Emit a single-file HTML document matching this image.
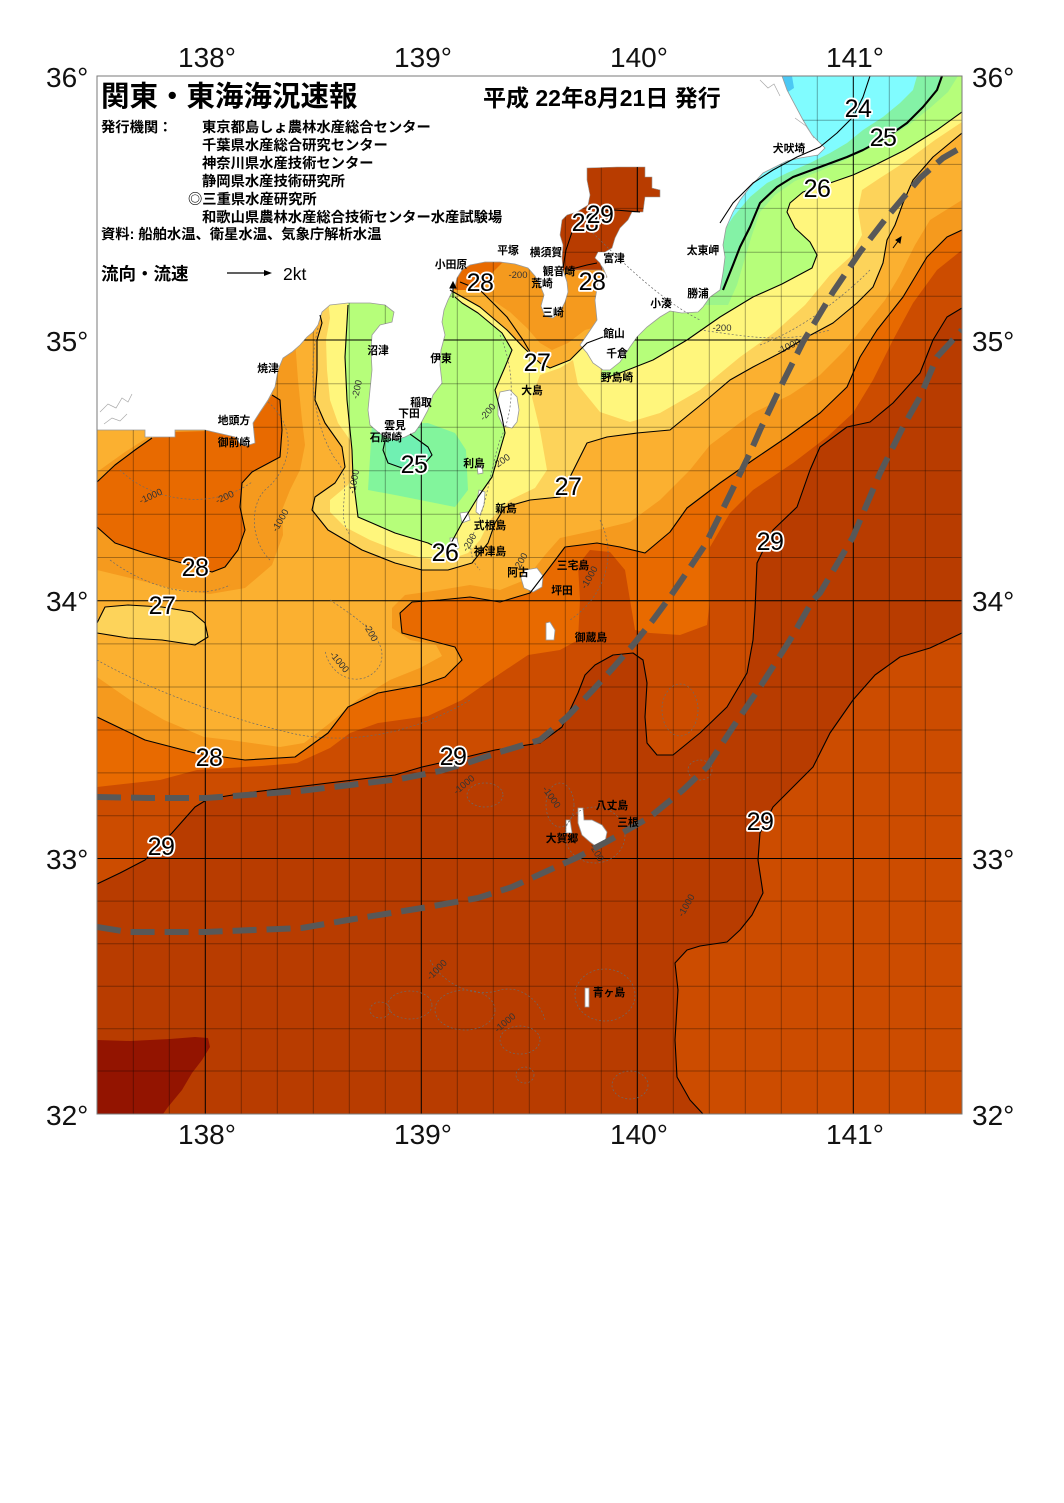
<!DOCTYPE html>
<html lang="ja">
<head>
<meta charset="utf-8">
<title>関東・東海海況速報</title>
<style>
  html,body{margin:0;padding:0;background:#fff;}
  body{width:1064px;height:1503px;overflow:hidden;}
  svg{display:block;}
  .jp{font-family:"Liberation Sans","Noto Sans CJK JP",sans-serif;}
  .ax{font-family:"Liberation Sans",sans-serif;font-size:28px;fill:#111;}
  .pl{font-family:"Liberation Sans","Noto Sans CJK JP",sans-serif;font-size:10.8px;font-weight:bold;fill:#000;text-anchor:middle;}
  .tl{font-family:"Liberation Sans",sans-serif;font-size:25px;fill:#000;text-anchor:middle;paint-order:stroke;stroke:#fff;stroke-width:3.5px;stroke-linejoin:round;letter-spacing:-0.5px;}
  .dp{font-family:"Liberation Sans",sans-serif;font-size:9.5px;fill:#333;text-anchor:middle;}
  .iso{fill:none;stroke:#000;stroke-width:1.1;stroke-linejoin:round;}
  .dep{fill:none;stroke:#6a6a6a;stroke-width:0.7;stroke-dasharray:2 2;}
  .kur{fill:none;stroke:#585858;stroke-width:6;stroke-dasharray:24 10;}
</style>
</head>
<body>
<svg width="1064" height="1503" viewBox="0 0 1064 1503" xmlns="http://www.w3.org/2000/svg">
<defs>
  <clipPath id="fr"><rect x="97" y="76" width="865" height="1038"/></clipPath>
  <path id="land" d="M97,76 L782,76 L787,90 L795,105 L803,120 L812,135 L820,143 L825,148 L818,155 L800,158 L787,161 L763,173 L750,187 L740,200 L733,212 L726,228 L723,245 L725,257 L723,273 L720,290 L710,297 L703,307 L698,312 L682,313 L670,311 L660,317 L647,327 L637,337 L630,347 L620,362 L610,370 L603,370 L593,363 L587,353 L580,345 L587,335 L597,320 L595,300 L598,283 L607,277 L603,268 L598,262 L563,270 L567,282 L568,292 L565,302 L560,312 L553,318 L545,316 L541,306 L544,295 L540,285 L535,276 L528,268 L515,264 L500,262 L485,262 L470,265 L462,270 L457,278 L455,287 L452,292 L448,300 L444,310 L442,322 L445,335 L441,350 L440,365 L442,383 L433,395 L428,410 L420,425 L415,432 L405,437 L395,440 L385,437 L378,432 L370,425 L368,410 L370,390 L372,370 L371,350 L372,335 L380,325 L392,322 L394,312 L385,305 L370,303 L348,303 L330,305 L322,312 L318,325 L313,332 L307,337 L300,345 L292,352 L283,358 L278,370 L275,387 L268,400 L260,412 L253,423 L255,443 L246,446 L240,444 L235,437 L205,430 L175,430 L175,437 L145,437 L145,430 L97,430 Z"/>
  <path id="isl" d="M500,392 L510,390 L517,397 L519,410 L517,422 L512,428 L503,426 L498,415 L498,400 Z
    M477,466 L482,466 L483,473 L478,474 Z
    M479,490 L485,492 L484,505 L480,515 L476,512 L477,500 Z
    M460,513 L468,512 L470,520 L462,523 Z
    M450,538 L457,538 L459,548 L451,551 Z
    M525,570 L537,568 L543,576 L542,587 L533,592 L524,588 L521,578 Z
    M546,623 L550,622 L555,630 L554,640 L546,640 Z
    M578,808 L583,808 L584,820 L592,820 L602,825 L607,832 L605,842 L598,848 L590,842 L582,835 L578,823 Z
    M566,820 L570,820 L572,833 L566,833 Z
    M585,988 L589,988 L589,1007 L585,1007 Z"/>
  <path id="tokyo" d="M587,168 L617,167 L645,167 L645,177 L652,177 L652,188 L660,190 L660,197 L645,197 L643,212 L632,212 L628,220 L620,228 L615,238 L612,248 L605,252 L598,252 L595,258 L600,263 L603,270 L563,270 L562,258 L563,245 L560,235 L562,220 L567,215 L577,212 L588,205 L590,195 L587,180 Z"/>
  <mask id="sea" maskUnits="userSpaceOnUse" x="0" y="0" width="1064" height="1503">
    <rect x="97" y="76" width="865" height="1038" fill="#fff"/>
    <use href="#land" fill="#000"/>
    <use href="#isl" fill="#000"/>
    <use href="#tokyo" fill="#fff"/>
  </mask>
</defs>

<!-- ============ SEA COLOUR BANDS ============ -->
<g clip-path="url(#fr)">
  <rect x="97" y="76" width="865" height="1038" fill="#b83c00"/>
  <path fill="#931400" d="M97,1040 L130,1041 L170,1039 L195,1037 L208,1038 L210,1047 L202,1060 L192,1073 L182,1090 L168,1107 L163,1114 L97,1114 Z"/>
  <path fill="#cc4c00" d="M962,633 L930,648 L900,657 L875,675 L853,700 L830,733 L813,767 L790,790 L773,807 L760,833 L758,860 L763,893 L752,915 L740,930 L727,942 L700,946 L687,950 L675,963 L678,990 L675,1040 L677,1077 L690,1100 L703,1114 L962,1114 Z"/>
  <path fill="#cc4c00" d="M97,884 L120,873 L145,860 L172,833 L195,807 L208,799 L245,793 L312,785 L395,775 L422,767 L462,758 L495,750 L540,743 L562,727 L578,693 L585,675 L595,665 L613,655 L633,653 L643,660 L647,683 L645,717 L647,743 L657,755 L673,755 L700,733 L727,707 L747,673 L753,640 L755,610 L757,563 L773,530 L797,507 L810,470 L820,447 L847,427 L870,422 L893,403 L920,373 L933,340 L947,317 L962,308 L962,76 L97,76 Z"/>
  <path fill="#e86a00" d="M97,787 L160,780 L197,770 L262,766 L297,763 L330,748 L350,733 L378,723 L428,716 L462,700 L495,677 L528,655 L560,650 L578,640 L580,600 L578,565 L590,550 L610,552 L625,570 L630,600 L635,630 L650,633 L680,635 L707,625 L710,600 L710,547 L730,513 L753,490 L793,463 L827,437 L853,413 L873,380 L893,340 L913,303 L937,270 L962,250 L962,76 L97,76 Z"/>
  <path fill="#f59a1e" d="M97,717 L145,740 L195,753 L245,760 L295,757 L328,733 L348,707 L378,693 L422,685 L445,677 L462,660 L455,647 L428,640 L402,633 L400,613 L412,602 L440,600 L470,597 L500,602 L530,593 L553,563 L565,547 L597,543 L620,547 L645,553 L670,532 L687,508 L720,483 L753,460 L787,437 L820,413 L847,387 L860,357 L877,330 L903,297 L927,257 L947,237 L962,230 L962,76 L97,76 Z"/>
  <path fill="#fbb030" d="M97,677 L130,700 L164,720 L204,737 L230,740 L280,747 L304,743 L330,723 L357,700 L390,680 L420,668 L442,656 L436,645 L410,640 L392,628 L392,608 L405,595 L440,590 L470,585 L500,590 L525,580 L545,555 L560,538 L597,530 L630,522 L660,500 L690,470 L710,445 L753,413 L790,395 L820,375 L845,350 L865,325 L885,300 L900,275 L915,245 L930,220 L962,200 L962,76 L97,76 Z"/>
  <path fill="#f59a1e" d="M97,472 L125,452 L150,436 L200,425 L295,340 L298,380 L302,420 L305,445 L300,470 L290,490 L282,510 L283,535 L272,565 L245,588 L210,594 L170,588 L130,578 L97,570 Z"/>
  <path fill="#e86a00" d="M97,482 L115,465 L135,450 L152,438 L175,432 L240,430 L262,410 L272,395 L280,400 L282,430 L280,457 L252,472 L242,483 L240,507 L245,530 L238,550 L225,567 L212,572 L182,563 L145,553 L115,543 L97,527 Z"/>
  <path fill="#fdd35a" d="M97,623 L105,607 L128,605 L162,607 L192,612 L205,623 L208,637 L195,645 L162,640 L128,638 L97,633 Z"/>
  <path fill="#fdd35a" d="M313,300 L322,323 L317,340 L317,370 L315,400 L325,423 L342,447 L345,467 L335,483 L315,497 L312,510 L328,530 L362,550 L395,563 L422,570 L448,570 L472,563 L488,543 L495,523 L505,507 L530,500 L560,497 L577,463 L587,443 L607,437 L637,433 L670,430 L703,403 L730,380 L753,367 L780,353 L807,337 L833,323 L857,303 L873,287 L883,263 L887,240 L895,225 L903,203 L913,180 L933,157 L962,133 L962,76 L313,76 Z"/>
  <path fill="#fff67c" d="M328,300 L330,318 L326,340 L327,370 L330,400 L338,423 L355,447 L358,467 L348,485 L330,500 L330,512 L345,527 L370,540 L395,550 L422,558 L448,560 L468,553 L480,540 L490,520 L510,500 L535,488 L547,470 L540,430 L532,397 L540,375 L560,368 L573,360 L578,385 L600,412 L630,422 L660,413 L700,390 L740,357 L775,332 L805,305 L830,275 L850,257 L862,235 L858,210 L862,190 L880,178 L905,162 L935,140 L962,122 L962,76 L328,76 Z"/>
  <path fill="#b6fe7a" d="M962,76 L962,112 L937,130 L905,150 L875,165 L853,175 L830,183 L803,192 L790,203 L787,212 L795,228 L810,242 L817,255 L812,268 L782,284 L753,297 L720,317 L687,340 L653,360 L620,373 L600,380 L610,330 L640,250 L700,76 Z"/>
  <path fill="#9cf58a" d="M958,76 L948,92 L930,108 L910,124 L890,137 L866,150 L845,160 L820,171 L795,181 L775,195 L760,212 L752,235 L745,258 L737,285 L728,305 L700,305 L700,76 Z"/>
  <path fill="#84f2a6" d="M942,76 L937,90 L923,107 L907,123 L887,137 L863,150 L847,157 L820,167 L793,177 L777,187 L760,203 L750,227 L740,247 L733,265 L723,290 L700,290 L700,76 Z"/>
  <path fill="#80fcff" d="M917,76 L913,90 L900,103 L883,117 L863,130 L847,143 L830,153 L810,163 L787,173 L767,183 L750,197 L733,217 L720,237 L700,237 L700,76 Z"/>
  <path fill="#4cc8f4" d="M782,76 L792,76 L794,88 L788,92 Z"/>
  <path fill="#b6fe7a" d="M348,250 L348,310 L345,357 L347,400 L352,450 L353,477 L355,493 L358,517 L372,523 L395,533 L428,543 L442,550 L450,545 L462,523 L478,497 L492,477 L498,457 L505,433 L502,417 L495,390 L505,367 L512,350 L502,333 L478,313 L462,303 L455,297 L455,250 Z"/>
  <path fill="#82f59c" d="M372,425 L368,490 L395,495 L430,502 L455,507 L468,490 L466,450 L455,433 L428,423 Z"/>
  <path fill="#70f0b2" d="M385,440 L388,463 L402,468 L425,463 L432,455 L428,447 L410,436 Z"/>
  <path fill="#f59a1e" d="M440,250 L452,292 L480,307 L507,330 L523,347 L540,363 L550,368 L570,360 L587,343 L603,337 L615,300 L615,250 Z"/>
  <path fill="#fbb030" d="M452,292 L480,307 L507,330 L523,347 L540,363 L550,368 L570,360 L587,343 L603,337 L603,325 L585,330 L568,343 L552,350 L540,343 L527,328 L510,312 L485,295 L462,284 Z"/>
  <path fill="#e86a00" d="M452,268 L470,258 L500,256 L503,262 L493,272 L482,285 L468,290 L455,290 Z"/>
</g>

<!-- ============ LAND ============ -->
<use href="#land" fill="#fff" stroke="#9a9a9a" stroke-width="0.8"/>
<use href="#isl" fill="#fff" stroke="#9a9a9a" stroke-width="0.8"/>
<use href="#tokyo" fill="#b83c00" stroke="#9a9a9a" stroke-width="0.6"/>
<g fill="none" stroke="#a8a8a8" stroke-width="0.7">
  <path d="M100,412 L108,404 L116,408 L122,398 L128,402 L132,394"/>
  <path d="M104,424 L112,418 L120,421 L127,414"/>
  <path d="M760,80 L768,88 L774,84 L780,96"/>
  <path d="M795,118 L806,126 L814,138"/>
</g>

<!-- ============ GRID ============ -->
<g mask="url(#sea)">
  <g stroke="rgba(0,0,0,0.32)" stroke-width="1">
    <path d="M133.3,76V1114M169.3,76V1114M241.3,76V1114M277.3,76V1114M313.3,76V1114M349.3,76V1114M385.3,76V1114M457.3,76V1114M493.3,76V1114M529.3,76V1114M565.3,76V1114M601.3,76V1114M673.3,76V1114M709.3,76V1114M745.3,76V1114M781.3,76V1114M817.3,76V1114M889.3,76V1114M925.3,76V1114"/>
    <path d="M97,120.2H962M97,164.4H962M97,208.4H962M97,252.3H962M97,296.2H962M97,383.7H962M97,427.2H962M97,470.7H962M97,514.2H962M97,557.5H962M97,643.9H962M97,687H962M97,730H962M97,772.9H962M97,815.7H962M97,901.1H962M97,943.7H962M97,986.2H962M97,1028.7H962M97,1071H962"/>
  </g>
  <g stroke="#000" stroke-width="1">
    <path d="M205.3,76V1114M421.3,76V1114M637.3,76V1114M853.3,76V1114"/>
    <path d="M97,340H962M97,600.7H962M97,858.5H962"/>
  </g>
</g>

<!-- ============ DEPTH CONTOURS ============ -->
<g class="dep">
  <path d="M318,328 C305,380 318,440 340,465 C352,490 335,515 350,535"/>
  <path d="M500,335 C515,370 515,410 500,440 C490,470 488,500 475,530 C468,545 470,560 480,570"/>
  <path d="M268,402 C300,430 290,470 265,490 C250,505 250,540 270,560"/>
  <path d="M120,470 C150,500 210,512 252,482"/>
  <path d="M110,560 C150,590 200,600 230,585"/>
  <path d="M330,600 C360,620 390,640 380,665 C365,690 330,680 325,650"/>
  <path d="M97,660 C150,690 230,720 300,735 C360,745 420,730 470,700"/>
  <path d="M600,520 C620,560 600,600 570,620"/>
  <path d="M700,330 C740,335 780,345 830,330"/>
  <path d="M760,345 C800,330 840,300 870,270"/>
  <path d="M590,230 C620,260 660,300 700,320"/>
  <ellipse cx="485" cy="795" rx="18" ry="12"/>
  <ellipse cx="560" cy="805" rx="14" ry="22"/>
  <ellipse cx="595" cy="835" rx="30" ry="28"/>
  <ellipse cx="605" cy="995" rx="30" ry="26"/>
  <ellipse cx="520" cy="1040" rx="20" ry="14"/>
  <ellipse cx="410" cy="1005" rx="22" ry="14"/>
  <ellipse cx="380" cy="1010" rx="10" ry="8"/>
  <ellipse cx="525" cy="1075" rx="9" ry="8"/>
  <ellipse cx="630" cy="1085" rx="18" ry="14"/>
  <ellipse cx="680" cy="710" rx="18" ry="26"/>
  <ellipse cx="700" cy="770" rx="12" ry="10"/>
  <ellipse cx="465" cy="1010" rx="30" ry="20"/>
  <path d="M430,960 C440,980 470,1000 500,990 C520,985 540,1000 545,1020"/>
</g>
<g class="dp">
  <text x="518" y="278">-200</text>
  <text transform="translate(360,390) rotate(-78)">-200</text>
  <text transform="translate(490,414) rotate(-50)">-200</text>
  <text transform="translate(503,464) rotate(-35)">-200</text>
  <text transform="translate(357,482) rotate(-80)">-1000</text>
  <text transform="translate(226,500) rotate(-25)">-200</text>
  <text transform="translate(152,499) rotate(-25)">-1000</text>
  <text transform="translate(283,522) rotate(-60)">-1000</text>
  <text transform="translate(368,634) rotate(60)">-200</text>
  <text transform="translate(337,664) rotate(50)">-1000</text>
  <text transform="translate(472,544) rotate(-60)">-200</text>
  <text transform="translate(524,562) rotate(-60)">200</text>
  <text transform="translate(592,579) rotate(-60)">-1000</text>
  <text x="722" y="331">-200</text>
  <text transform="translate(790,349) rotate(-25)">-1000</text>
  <text transform="translate(466,787) rotate(-40)">-1000</text>
  <text transform="translate(549,799) rotate(55)">-1000</text>
  <text transform="translate(594,854) rotate(60)">-200</text>
  <text transform="translate(689,907) rotate(-60)">-1000</text>
  <text transform="translate(439,972) rotate(-45)">-1000</text>
  <text transform="translate(507,1025) rotate(-40)">-1000</text>
</g>

<!-- ============ ISOTHERMS ============ -->
<g clip-path="url(#fr)">
  <path class="iso" d="M97,884 L120,873 L145,860 L172,833 L195,807 L208,799 L245,793 L312,785 L395,775 L422,767 L462,758 L495,750 L540,743 L562,727 L578,693 L585,675 L595,665 L613,655 L633,653 L643,660 L647,683 L645,717 L647,743 L657,755 L673,755 L700,733 L727,707 L747,673 L753,640 L755,610 L757,563 L773,530 L797,507 L810,470 L820,447 L847,427 L870,422 L893,403 L920,373 L933,340 L947,317 L962,308"/>
  <path class="iso" d="M962,633 L930,648 L900,657 L875,675 L853,700 L830,733 L813,767 L790,790 L773,807 L760,833 L758,860 L763,893 L752,915 L740,930 L727,942 L700,946 L687,950 L675,963 L678,990 L675,1040 L677,1077 L690,1100 L703,1114"/>
  <path class="iso" d="M97,717 L145,740 L195,753 L245,760 L295,757 L328,733 L348,707 L378,693 L422,685 L445,677 L462,660 L455,647 L428,640 L402,633 L400,613 L412,602 L440,600 L470,597 L500,602 L530,593 L553,563 L565,547 L597,543 L620,547 L645,553 L670,532 L687,508 L720,483 L753,460 L787,437 L820,413 L847,387 L860,357 L877,330 L903,297 L927,257 L947,237 L962,230"/>
  <path class="iso" d="M97,482 L115,465 L135,450 L152,438"/>
  <path class="iso" d="M272,395 L280,400 L282,430 L280,457 L252,472 L242,483 L240,507 L245,530 L238,550 L225,567 L212,572 L182,563 L145,553 L115,543 L97,527"/>
  <path class="iso" d="M97,623 L105,607 L128,605 L162,607 L192,612 L205,623 L208,637 L195,645 L162,640 L128,638 L97,633"/>
  <path class="iso" d="M320,315 L322,323 L317,340 L317,370 L315,400 L325,423 L342,447 L345,467 L335,483 L315,497 L312,510 L328,530 L362,550 L395,563 L422,570 L448,570 L472,563 L488,543 L495,523 L505,507 L530,500 L560,497 L577,463 L587,443 L607,437 L637,433 L670,430 L703,403 L730,380 L753,367 L780,353 L807,337 L833,323 L857,303 L873,287 L883,263 L887,240 L895,225 L903,203 L913,180 L933,157 L962,133"/>
  <path class="iso" d="M450,290 L480,307 L507,330 L523,347 L540,363 L550,368 L570,360 L587,343 L603,337"/>
  <path class="iso" d="M460,282 L480,290 L507,317 L523,340 L533,357"/>
  <path class="iso" d="M348,305 L345,357 L347,400 L352,450 L353,477 L355,493 L358,517 L372,523 L395,533 L428,543 L442,550 L450,545 L462,523 L478,497 L492,477 L498,457 L505,433 L502,417 L495,390 L505,367 L512,350 L502,333 L478,313 L462,303 L455,297"/>
  <path class="iso" d="M410,434 L428,447 L432,455 L425,463 L402,468 L388,463 L383,450 L385,441"/>
  <path class="iso" d="M962,112 L937,130 L905,150 L875,165 L853,175 L830,183 L803,192 L790,203 L787,212 L795,228 L810,242 L817,255 L812,268 L782,284 L753,297 L720,317 L687,340 L653,360 L620,373 L605,378"/>
  <path class="iso" style="stroke-width:2.1" d="M942,76 L937,90 L923,107 L907,123 L887,137 L863,150 L847,157 L820,167 L793,177 L777,187 L760,203 L750,227 L740,247 L733,265 L723,290"/>
  <path class="iso" d="M870,76 L863,97 L853,117 L837,133 L820,147 L797,157 L773,170 L753,183 L733,203 L720,223"/>
  <path class="iso" d="M563,268 L566,250 L572,232 L580,220 L592,212 L615,210 L640,212"/>
  <path class="iso" d="M568,270 L587,265 L597,263"/>
</g>

<!-- ============ KUROSHIO AXIS ============ -->
<g clip-path="url(#fr)">
  <path class="kur" d="M97,797 L150,798 L206,798 L260,794 L300,791 L350,785 L400,779 L440,771 L470,762 L500,752 L540,740 L567,717 L593,690 L613,668 L633,645 L653,620 L670,597 L687,572 L705,545 L720,515 L737,480 L750,453 L760,430 L780,388 L803,342 L833,292 L860,252 L887,217 L903,198 L920,178 L943,158 L962,147"/>
  <path class="kur" d="M97,927 L128,932 L205,932 L302,928 L348,920 L422,908 L478,898 L512,887 L545,872 L578,857 L610,840 L650,817 L683,790 L707,767 L733,727 L760,687 L790,640 L813,600 L820,593 L853,537 L880,473 L903,427 L920,397 L937,357 L950,343 L962,330"/>
</g>

<rect x="97" y="76" width="865" height="1038" fill="none" stroke="#7a7a7a" stroke-width="1"/>

<!-- ============ TEMPERATURE LABELS ============ -->
<g class="tl">
  <text x="858" y="117">24</text>
  <text x="883" y="146">25</text>
  <text x="817" y="197">26</text>
  <text x="585" y="231">28</text>
  <text x="600" y="223">29</text>
  <text x="480" y="291">28</text>
  <text x="592" y="290">28</text>
  <text x="537" y="371">27</text>
  <text x="414" y="473">25</text>
  <text x="568" y="495">27</text>
  <text x="445" y="561">26</text>
  <text x="195" y="576">28</text>
  <text x="162" y="614">27</text>
  <text x="770" y="550">29</text>
  <text x="209" y="766">28</text>
  <text x="453" y="765">29</text>
  <text x="161" y="855">29</text>
  <text x="760" y="830">29</text>
</g>

<!-- ============ PLACE NAMES ============ -->
<g class="pl">
  <text x="789" y="152">犬吠埼</text>
  <text x="703" y="254">太東岬</text>
  <text x="698" y="297">勝浦</text>
  <text x="661" y="307">小湊</text>
  <text x="614" y="337">館山</text>
  <text x="617" y="357">千倉</text>
  <text x="617" y="381">野島崎</text>
  <text x="614" y="262">富津</text>
  <text x="546" y="256">横須賀</text>
  <text x="559" y="275">観音崎</text>
  <text x="542" y="287">荒崎</text>
  <text x="553" y="316">三崎</text>
  <text x="508" y="254">平塚</text>
  <text x="451" y="268">小田原</text>
  <text x="378" y="354">沼津</text>
  <text x="441" y="362">伊東</text>
  <text x="268" y="372">焼津</text>
  <text x="421" y="406">稲取</text>
  <text x="409" y="417">下田</text>
  <text x="395" y="429">雲見</text>
  <text x="386" y="441">石廊崎</text>
  <text x="234" y="424">地頭方</text>
  <text x="234" y="446">御前崎</text>
  <text x="532" y="394">大島</text>
  <text x="474" y="467">利島</text>
  <text x="506" y="512">新島</text>
  <text x="490" y="529">式根島</text>
  <text x="490" y="555">神津島</text>
  <text x="518" y="576">阿古</text>
  <text x="573" y="569">三宅島</text>
  <text x="562" y="594">坪田</text>
  <text x="591" y="641">御蔵島</text>
  <text x="612" y="809">八丈島</text>
  <text x="628" y="826">三根</text>
  <text x="562" y="842">大賀郷</text>
  <text x="609" y="996">青ヶ島</text>
</g>

<g stroke="#000" stroke-width="1" fill="#000">
  <line x1="453" y1="298" x2="453" y2="286"/><polygon points="450,288 453,282 456,288"/>
  <line x1="893" y1="248" x2="899" y2="240"/><polygon points="896,240 901,237 900,243"/>
</g>

<!-- ============ AXIS LABELS ============ -->
<g class="ax">
  <text x="178" y="67">138°</text>
  <text x="394" y="67">139°</text>
  <text x="610" y="67">140°</text>
  <text x="826" y="67">141°</text>
  <text x="178" y="1144">138°</text>
  <text x="394" y="1144">139°</text>
  <text x="610" y="1144">140°</text>
  <text x="826" y="1144">141°</text>
  <text x="46" y="87">36°</text>
  <text x="46" y="351">35°</text>
  <text x="46" y="611">34°</text>
  <text x="46" y="869">33°</text>
  <text x="46" y="1125">32°</text>
  <text x="972" y="87">36°</text>
  <text x="972" y="351">35°</text>
  <text x="972" y="611">34°</text>
  <text x="972" y="869">33°</text>
  <text x="972" y="1125">32°</text>
</g>

<!-- ============ HEADER TEXT ============ -->
<g class="jp" fill="#000">
  <text x="101" y="106" font-size="28.5" font-weight="bold">関東・東海海況速報</text>
  <text x="483" y="106" font-size="23" font-weight="bold">平成 22年8月21日 発行</text>
  <g font-size="14.3" font-weight="bold">
    <text x="101" y="132">発行機関：</text>
    <text x="202" y="132">東京都島しょ農林水産総合センター</text>
    <text x="202" y="150">千葉県水産総合研究センター</text>
    <text x="202" y="168">神奈川県水産技術センター</text>
    <text x="202" y="186">静岡県水産技術研究所</text>
    <text x="188" y="204">◎三重県水産研究所</text>
    <text x="202" y="222">和歌山県農林水産総合技術センター水産試験場</text>
    <text x="101" y="239">資料: 船舶水温、衛星水温、気象庁解析水温</text>
  </g>
  <text x="101" y="280" font-size="17.5" font-weight="bold">流向・流速</text>
  <text x="283" y="280" font-size="17.5" font-family="Liberation Sans, sans-serif">2kt</text>
</g>
<line x1="227" y1="273" x2="265" y2="273" stroke="#000" stroke-width="1.2"/>
<polygon points="264,270 272,273 264,276" fill="#000"/>
</svg>
</body>
</html>
